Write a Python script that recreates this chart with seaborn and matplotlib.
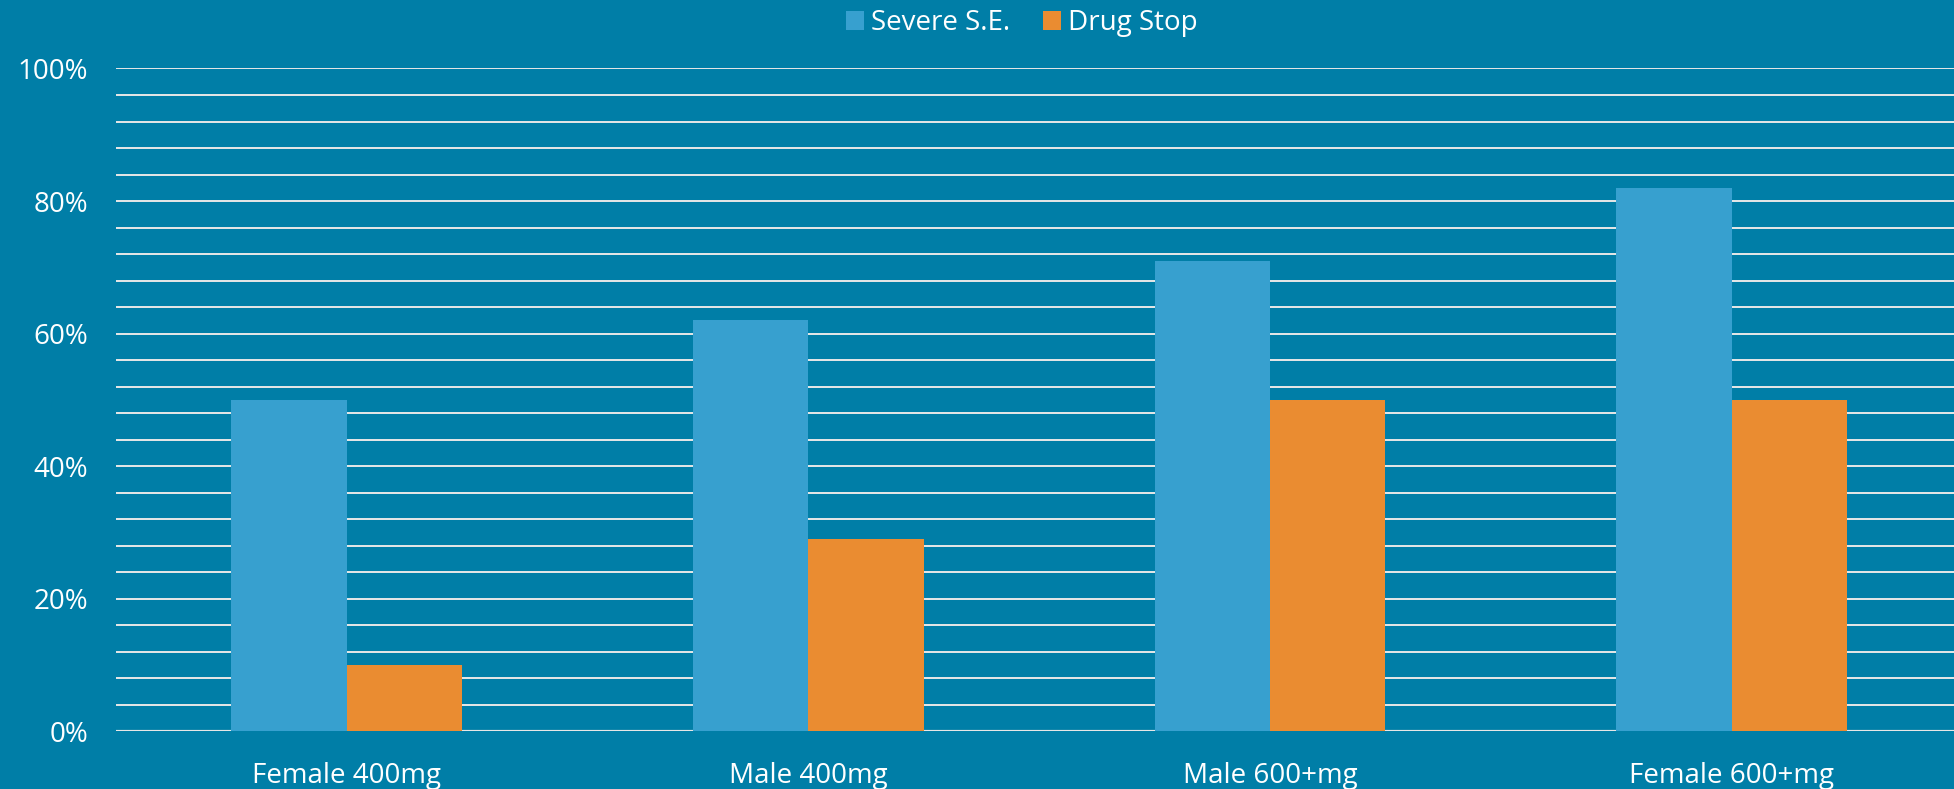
import matplotlib
matplotlib.use("Agg")
import matplotlib.pyplot as plt
import seaborn as sns
import pandas as pd
import numpy as np

categories = ["Female 400mg", "Male 400mg", "Male 600+mg", "Female 600+mg"]
series_names = ["Severe S.E.", "Drug Stop"]
severe_se = [50, 62, 71, 82]
drug_stop = [10, 29, 50, 50]
y_tick_labels = ["0%", "20%", "40%", "60%", "80%", "100%"]

BG = "#007EA7"
BLUE = "#37A0CF"
ORANGE = "#EA8C31"

sns.set_theme(style="white")
plt.rcParams["font.family"] = ["Open Sans", "DejaVu Sans"]

df = pd.DataFrame({
    "category": categories * 2,
    "series": [series_names[0]] * len(categories) + [series_names[1]] * len(categories),
    "value": severe_se + drug_stop,
})

fig = plt.figure(figsize=(19.54, 7.89), dpi=100, facecolor=BG)
ax = fig.add_axes([0.0593, 0.0729, 1.0044 - 0.0593, 0.9132 - 0.0729])
ax.set_facecolor(BG)

sns.barplot(data=df, x="category", y="value", hue="series", order=categories,
            hue_order=series_names, palette=[BLUE, ORANGE], width=0.5, gap=0,
            saturation=1, ax=ax, legend=True, linewidth=0)

ax.set_xlim(-0.5, 3.5)
ax.set_ylim(0, 100)
ax.set_yticks(np.arange(0, 101, 20))
ax.set_yticklabels(y_tick_labels)
ax.set_yticks(np.arange(0, 101, 4), minor=True)
ax.grid(True, which="both", axis="y", color="#E8E8E8", linewidth=1.4)
ax.set_axisbelow(True)
for s in ax.spines.values():
    s.set_visible(False)
ax.axhline(0, color="#C8C8C8", linewidth=1.6, zorder=0.5)
ax.set_xlabel("")
ax.set_ylabel("")
ax.tick_params(axis="both", which="both", length=0, colors="white", labelsize=20)
ax.tick_params(axis="y", pad=20)
ax.tick_params(axis="x", pad=22)
for lbl in ax.get_xticklabels() + ax.get_yticklabels():
    lbl.set_color("white")

leg = ax.legend(loc="center", bbox_to_anchor=(1022 / 1954, 1 - 23 / 789),
                bbox_transform=fig.transFigure, ncol=2, frameon=False,
                fontsize=20, handlelength=0.65, handleheight=0.65,
                handletextpad=0.25, columnspacing=1.2)
for t in leg.get_texts():
    t.set_color("white")

fig.savefig("out.png", dpi=100, facecolor=BG)
